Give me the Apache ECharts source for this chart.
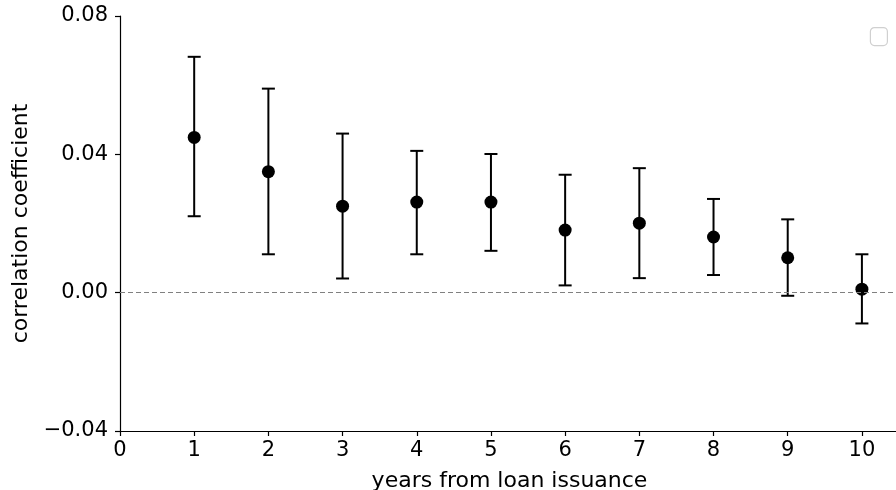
<!DOCTYPE html>
<html>
<head>
<meta charset="utf-8">
<script src="https://cdn.jsdelivr.net/npm/echarts@6/dist/echarts.min.js"></script>
<style>html,body{margin:0;padding:0;background:#fff;}#c{width:896px;height:490px;}</style>
</head>
<body>
<div id="c"></div>
<script>
const years = [1, 2, 3, 4, 5, 6, 7, 8, 9, 10];
const coef  = [0.0449, 0.0350, 0.0250, 0.0262, 0.0262, 0.0181, 0.0201, 0.0161, 0.0101, 0.0010];
const upper = [0.0682, 0.0590, 0.0460, 0.0410, 0.0401, 0.0341, 0.0360, 0.0271, 0.0212, 0.0111];
const lower = [0.0221, 0.0111, 0.0041, 0.0111, 0.0121, 0.0021, 0.0042, 0.0051, -0.0009, -0.0089];
const yTicks = [-0.04, 0.00, 0.04, 0.08];

const font = 'DejaVu Sans';
const chart = echarts.init(document.getElementById('c'), null, {renderer: 'canvas'});
const errData = years.map((x, i) => [x, lower[i], upper[i]]);
const ptData = years.map((x, i) => [x, coef[i]]);

chart.setOption({
  animation: false,
  backgroundColor: '#ffffff',
  grid: {left: 120, top: 16, width: 779, height: 415, containLabel: false, outerBoundsMode: 'none'},
  xAxis: {
    type: 'value', min: 0, max: 10.5, interval: 1,
    name: 'years from loan issuance', nameLocation: 'middle', nameGap: 39,
    nameTextStyle: {fontFamily: font, fontSize: 22, color: '#000'},
    axisLine: {show: true, onZero: false, lineStyle: {color: '#000', width: 1.2}},
    axisTick: {show: true, length: 5, lineStyle: {color: '#000', width: 1.2}},
    axisLabel: {fontFamily: font, fontSize: 21, color: '#000', margin: 9,
      formatter: v => (Number.isInteger(v) ? String(v) : '')},
    splitLine: {show: false}
  },
  yAxis: {
    type: 'value', min: -0.04, max: 0.08, interval: 0.04,
    name: 'correlation coefficient', nameLocation: 'middle', nameGap: 88,
    nameTextStyle: {fontFamily: font, fontSize: 22, color: '#000'},
    axisLine: {show: true, onZero: false, lineStyle: {color: '#000', width: 1.2}},
    axisTick: {show: true, length: 5, lineStyle: {color: '#000', width: 1.2}},
    axisLabel: {fontFamily: font, fontSize: 21, color: '#000', margin: 12,
      formatter: v => {
        const t = yTicks.find(k => Math.abs(k - v) < 1e-9);
        const val = t !== undefined ? t : v;
        return (val < 0 ? '\u2212' : '') + Math.abs(val).toFixed(2);
      }},
    splitLine: {show: false}
  },
  graphic: [{
    type: 'rect', right: 8, top: 27,
    shape: {width: 17, height: 18, r: 4},
    style: {fill: '#fff', stroke: '#d0d0d0', lineWidth: 1.2}
  }],
  series: [
    {
      type: 'custom',
      data: errData,
      z: 3,
      renderItem: function (params, api) {
        const x = api.value(0);
        const lo = api.coord([x, api.value(1)]);
        const hi = api.coord([x, api.value(2)]);
        const cw = 6.5;
        const st = {stroke: '#000', lineWidth: 2};
        return {
          type: 'group',
          children: [
            {type: 'line', shape: {x1: lo[0], y1: lo[1], x2: hi[0], y2: hi[1]}, style: st},
            {type: 'line', shape: {x1: hi[0] - cw, y1: hi[1], x2: hi[0] + cw, y2: hi[1]}, style: st},
            {type: 'line', shape: {x1: lo[0] - cw, y1: lo[1], x2: lo[0] + cw, y2: lo[1]}, style: st}
          ]
        };
      }
    },
    {
      type: 'scatter',
      data: ptData,
      symbol: 'circle',
      symbolSize: 13,
      z: 4,
      itemStyle: {color: '#000', opacity: 1},
      markLine: {
        silent: true,
        symbol: ['none', 'none'],
        label: {show: false},
        lineStyle: {color: '#808080', type: [5, 3], width: 1.2},
        data: [{yAxis: 0}]
      }
    }
  ]
});
</script>
</body>
</html>
